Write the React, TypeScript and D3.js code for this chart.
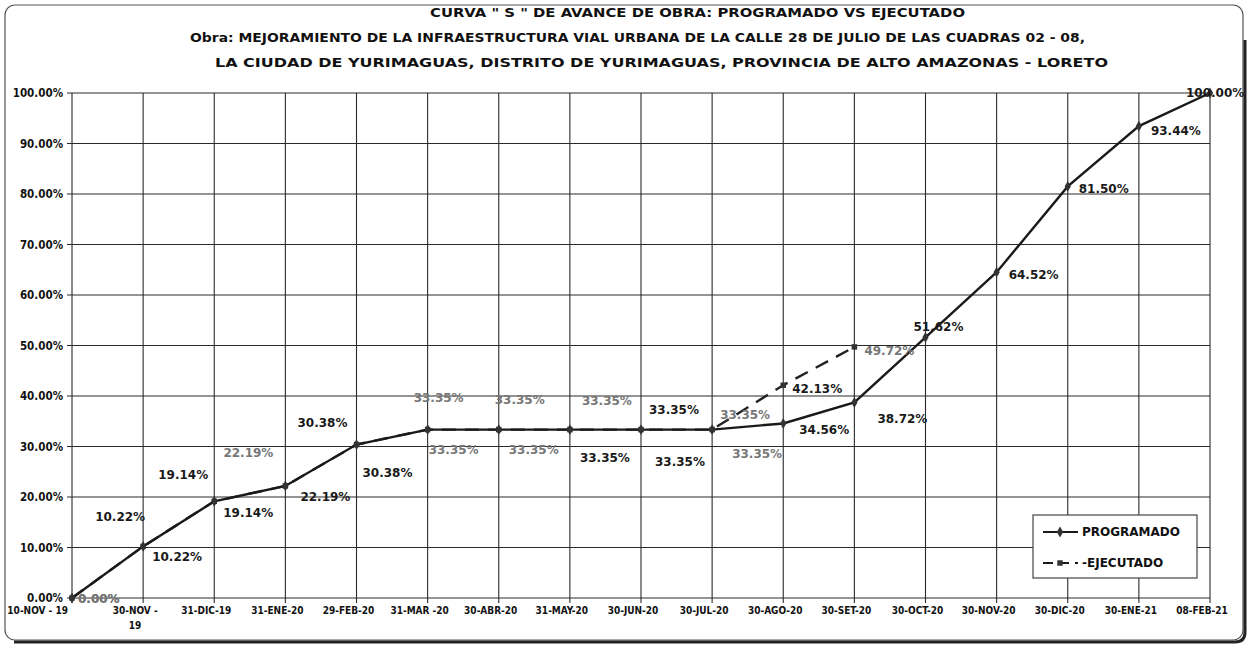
import * as d3 from "d3";

// chart data
const categories = [
  "10-NOV - 19", "30-NOV -\n19", "31-DIC-19", "31-ENE-20", "29-FEB-20", "31-MAR -20",
  "30-ABR-20", "31-MAY-20", "30-JUN-20", "30-JUL-20", "30-AGO-20", "30-SET-20",
  "30-OCT-20", "30-NOV-20", "30-DIC-20", "30-ENE-21", "08-FEB-21",
];
const programado = [
  0, 10.22, 19.14, 22.19, 30.38, 33.35, 33.35, 33.35, 33.35, 33.35, 34.56, 38.72,
  51.62, 64.52, 81.5, 93.44, 100,
];
const ejecutado = [
  0, 10.22, 19.14, 22.19, 30.38, 33.35, 33.35, 33.35, 33.35, 33.35, 42.13, 49.72,
];
const yTicks = [0, 10, 20, 30, 40, 50, 60, 70, 80, 90, 100];
const seriesNames = ["PROGRAMADO", "EJECUTADO"];
const titleLines = [
  'CURVA " S " DE AVANCE DE OBRA:  PROGRAMADO VS EJECUTADO',
  "Obra:  MEJORAMIENTO DE LA INFRAESTRUCTURA VIAL URBANA DE LA CALLE 28 DE JULIO DE LAS CUADRAS 02 - 08,",
  "LA CIUDAD DE YURIMAGUAS, DISTRITO DE YURIMAGUAS, PROVINCIA DE ALTO AMAZONAS - LORETO",
];

// label placement (offset from the point: start x, middle y)
const progLabelOffset = [
  [6, 1], [9, 10], [9, 11], [15, 11], [6, 28], [1, 20], [10, 20], [10, 28], [14, 32],
  [20, 24], [16, 6], [23, 16], [-12, -11], [12, 3], [11, 2], [12, 5], [-24, 0],
];
const ejecLabelOffset = [
  [6, 1], [-48, -30], [-56, -27], [-62, -33], [-59, -22], [-14, -32], [-4, -30],
  [12, -29], [8, -20], [8, -15], [9, 4], [10, 4],
];
const progFaded = [0, 5, 6, 9];
const ejecFaded = [0, 3, 5, 6, 7, 9, 11];

const W = 1252;
const H = 649;
const FONT = "'DejaVu Sans', Verdana, sans-serif";
const FONT_C = "'DejaVu Sans Condensed', 'DejaVu Sans', sans-serif";

export default function App() {
  const margin = { top: 93, right: 42, bottom: 51, left: 72 };
  const x = d3
    .scalePoint<number>()
    .domain(d3.range(categories.length))
    .range([margin.left, W - margin.right]);
  const y = d3.scaleLinear().domain([0, 100]).range([H - margin.bottom, margin.top]);

  const line = d3
    .line<number>()
    .x((_, i) => x(i)!)
    .y((d) => y(d));

  const diamond = d3.symbol(d3.symbolDiamond, 34)()!;
  const square = d3.symbol(d3.symbolSquare, 30)()!;
  const fmt = (v: number) => v.toFixed(2) + "%";

  const x0 = margin.left;
  const x1 = W - margin.right;
  const y0 = H - margin.bottom;
  const y1 = margin.top;

  const legendX = 1033;
  const legendY = 515;

  return (
    <svg
      width={W}
      height={H}
      style={{ position: "absolute", left: 0, top: 0, background: "#fff" }}
    >
      {/* chart area frame */}
      <rect x={5} y={5} width={1238} height={635} rx={10} fill="#fff" stroke="#555" strokeWidth={1.2} />
      <path d="M 1245 40 L 1245 632 Q 1245 642 1235 642 L 14 642" fill="none" stroke="#222" strokeWidth={3} />

      {/* title */}
      <g fontFamily={FONT} fontWeight="bold" fontSize={13} fill="#111">
        <text x={430} y={17} textLength={535} lengthAdjust="spacingAndGlyphs">{titleLines[0]}</text>
        <text x={190} y={42} textLength={895} lengthAdjust="spacingAndGlyphs">{titleLines[1]}</text>
        <text x={215} y={67} textLength={893} lengthAdjust="spacingAndGlyphs">{titleLines[2]}</text>
      </g>

      {/* grid */}
      <g stroke="#2a2a2a" strokeWidth={1.1}>
        {yTicks.map((t) => (
          <line key={"h" + t} x1={x0 - 5} x2={x1} y1={y(t)} y2={y(t)} />
        ))}
        {categories.map((_, i) => (
          <line key={"v" + i} x1={x(i)} x2={x(i)} y1={y1} y2={y0 + 5} />
        ))}
      </g>

      {/* y axis labels */}
      <g fontFamily={FONT_C} fontWeight="bold" fontSize={11.5} fill="#111" textAnchor="end">
        {yTicks.map((t) => (
          <text key={t} x={x0 - 9} y={y(t)} dy="0.35em">
            {t.toFixed(2) + "%"}
          </text>
        ))}
      </g>

      {/* x axis labels */}
      <g fontFamily={FONT_C} fontWeight="bold" fontSize={10} fill="#111">
        {categories.map((c, i) => {
          const lines = c.split("\n");
          const first = i === 0;
          const lx = first ? x(i)! - 4 : x(i)! - 8;
          return (
            <text key={c} x={lx} y={y0 + 16} textAnchor={first ? "end" : "middle"}>
              {lines.map((l, k) => (
                <tspan key={k} x={lx} dy={k === 0 ? 0 : 15}>
                  {l}
                </tspan>
              ))}
            </text>
          );
        })}
      </g>

      {/* ejecutado */}
      <path d={line(ejecutado)!} fill="none" stroke="#222" strokeWidth={2.4} strokeDasharray="14,9" />
      {ejecutado.map((v, i) => (
        <path key={"em" + i} d={square} transform={`translate(${x(i)},${y(v)})`} fill="#333" />
      ))}

      {/* programado */}
      <path d={line(programado)!} fill="none" stroke="#1a1a1a" strokeWidth={2.4} />
      {programado.map((v, i) => (
        <path key={"pm" + i} d={diamond} transform={`translate(${x(i)},${y(v)})`} fill="#333" />
      ))}

      {/* data labels */}
      <g fontFamily={FONT} fontWeight="bold" fontSize={12}>
        {ejecutado.map((v, i) => (
          <text
            key={"el" + i}
            x={x(i)! + ejecLabelOffset[i][0]}
            y={y(v) + ejecLabelOffset[i][1]}
            dy="0.35em"
            fill={ejecFaded.includes(i) ? "#777" : "#1a1a1a"}
          >
            {fmt(v)}
          </text>
        ))}
        {programado.map((v, i) => (
          <text
            key={"pl" + i}
            x={x(i)! + progLabelOffset[i][0]}
            y={y(v) + progLabelOffset[i][1]}
            dy="0.35em"
            fill={progFaded.includes(i) ? "#777" : "#1a1a1a"}
          >
            {fmt(v)}
          </text>
        ))}
      </g>

      {/* legend */}
      <g>
        <rect x={legendX} y={legendY} width={164} height={63} fill="#fff" stroke="#444" strokeWidth={1.2} />
        <line x1={legendX + 10} x2={legendX + 45} y1={legendY + 17} y2={legendY + 17} stroke="#1a1a1a" strokeWidth={2} />
        <path d={diamond} transform={`translate(${legendX + 27},${legendY + 17})`} fill="#333" />
        <line x1={legendX + 10} x2={legendX + 45} y1={legendY + 48} y2={legendY + 48} stroke="#1a1a1a" strokeWidth={2} strokeDasharray="10,6" />
        <path d={square} transform={`translate(${legendX + 27},${legendY + 48})`} fill="#333" />
        <g fontFamily={FONT} fontWeight="bold" fontSize={12} fill="#111">
          <text x={legendX + 49} y={legendY + 17} dy="0.35em">{seriesNames[0]}</text>
          <text x={legendX + 49} y={legendY + 48} dy="0.35em">{"-" + seriesNames[1]}</text>
        </g>
      </g>
    </svg>
  );
}
